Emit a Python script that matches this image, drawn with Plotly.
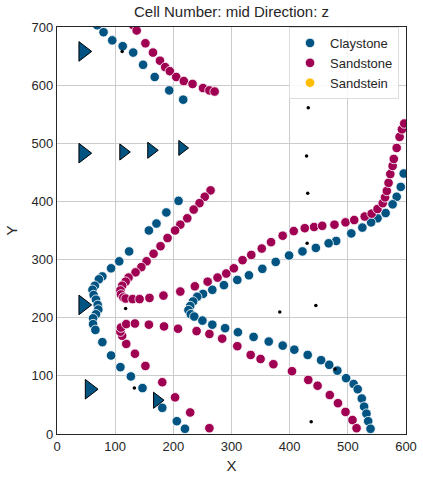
import plotly.graph_objects as go

# ---- data ----
clay_x = [69, 80, 95, 113, 131, 148, 168, 193, 217,
          209, 188, 171, 158, 124, 107, 93, 78, 72, 65, 61, 63, 67, 70, 71, 67, 62, 62, 66,
          78, 93, 109, 127, 147, 181, 206, 220,
          596, 591, 584, 577, 565, 551, 540, 525, 506, 480, 467, 445, 422, 399, 376, 353,
          330, 310, 287, 267, 251, 241, 234, 229, 226, 230, 236, 250, 267, 289, 311, 338,
          364, 388, 408, 431, 454, 468, 482, 497, 510, 517, 524, 528, 532, 535, 539]
clay_y = [703, 691, 677, 667, 656, 635, 614, 591, 575,
          401, 381, 362, 350, 314, 297, 285, 271, 266, 255, 248, 239, 231, 222, 214, 206, 199, 189, 179,
          158, 135, 115, 99, 79, 45, 22, 9,
          448, 425, 408, 395, 380, 371, 364, 355, 345, 332, 328, 320, 314, 307, 296, 284,
          273, 265, 256, 248, 241, 236, 228, 220, 213, 206, 202, 195, 188, 182, 175, 167,
          159, 152, 145, 136, 127, 119, 109, 96, 86, 77, 61, 47, 35, 22, 9]

sand_x = [131, 137, 152, 165, 177, 186, 194, 205, 218, 233, 251, 262, 271,
          264, 254, 245, 235, 224, 212, 203, 190, 178, 166, 154, 145, 135, 123, 118, 112, 109, 110,
          114, 118, 130, 142, 159, 183, 212, 237, 259, 276, 291, 304, 319, 334, 352, 368, 388,
          407, 426, 442, 456, 477, 496, 511, 529, 541, 551, 560, 564, 567, 570, 573, 577, 579,
          584, 589, 593, 597,
          262, 229, 203, 181, 152, 134, 119, 112, 109, 110, 119, 134, 158, 184, 208, 240, 262,
          284, 310, 333, 350, 372, 404, 432, 448, 469, 483, 496, 508, 515]
sand_y = [703, 694, 672, 656, 642, 631, 624, 614, 607, 602, 595, 591, 589,
          419, 408, 397, 386, 371, 360, 350, 337, 323, 310, 297, 287, 278, 269, 262, 255, 247, 240,
          235, 233, 232, 232, 234, 238, 245, 254, 262, 269, 276, 285, 299, 308, 319, 330, 341,
          349, 354, 356, 358, 360, 364, 368, 374, 379, 387, 397, 407, 418, 432, 447, 461, 473,
          492, 511, 524, 534,
          10, 37, 63, 89, 117, 138, 155, 169, 176, 183, 189, 190, 188, 185, 181, 177, 172,
          164, 151, 136, 129, 120, 108, 93, 83, 67, 53, 38, 24, 10]

sandstein_x = []
sandstein_y = []

point_x = [112, 432, 429, 431, 430, 445, 383, 478, 437, 118, 133]
point_y = [658, 561, 478, 414, 328, 221, 210, 112, 21, 216, 79]

orient_x = [45, 45, 114, 162, 215, 45, 56, 172]
orient_y = [658, 483, 485, 488, 492, 222, 77, 58]
orient_size = [17, 17, 14, 14, 13, 17, 17, 14]

C_CLAY = "#015482"
C_SAND = "#9f0052"
C_SANDSTEIN = "#ffbe00"
FONT = "Liberation Sans, Arial, sans-serif"
TXT = "#262626"

fig = go.Figure()
fig.add_trace(go.Scatter(x=clay_x, y=clay_y, mode="markers", name="Claystone",
                         marker=dict(color=C_CLAY, size=9.5, opacity=1,
                                     line=dict(color="white", width=0.8))))
fig.add_trace(go.Scatter(x=sand_x, y=sand_y, mode="markers", name="Sandstone",
                         marker=dict(color=C_SAND, size=9.5, opacity=1,
                                     line=dict(color="white", width=0.8))))
fig.add_trace(go.Scatter(x=sandstein_x or [None], y=sandstein_y or [None], mode="markers",
                         name="Sandstein",
                         marker=dict(color=C_SANDSTEIN, size=9.5, opacity=1,
                                     line=dict(color="white", width=0.8))))
fig.add_trace(go.Scatter(x=orient_x, y=orient_y, mode="markers", showlegend=False,
                         marker=dict(symbol="triangle-right", color=C_CLAY, size=orient_size,
                                     opacity=1, line=dict(color="black", width=1))))
fig.add_trace(go.Scatter(x=point_x, y=point_y, mode="markers", showlegend=False,
                         marker=dict(color="black", size=3.5, opacity=1)))

axis_common = dict(showgrid=True, gridcolor="#cccccc", gridwidth=1, zeroline=False,
                   showline=True, mirror=True, linecolor=TXT, linewidth=1.3,
                   ticks="", tickfont=dict(family=FONT, size=13, color=TXT),
                   dtick=100, automargin=False)

fig.update_layout(
    width=423, height=481,
    margin=dict(l=57, r=17, t=27, b=47),
    paper_bgcolor="white", plot_bgcolor="white",
    title=dict(text="Cell Number: mid Direction: z", x=0.5, xref="paper",
               y=1 - 12 / 481, yanchor="middle",
               font=dict(family=FONT, size=15, color=TXT)),
    xaxis=dict(range=[0, 600], title=dict(text="X", font=dict(family=FONT, size=15, color=TXT),
                                          standoff=7), **axis_common),
    yaxis=dict(range=[0, 700], title=dict(text="Y", font=dict(family=FONT, size=15, color=TXT),
                                          standoff=10), **axis_common),
    legend=dict(x=0.98, y=1.0, xanchor="right", yanchor="top",
                bgcolor="rgba(255,255,255,0.85)", bordercolor="#dddddd", borderwidth=1,
                font=dict(family=FONT, size=13, color=TXT), tracegroupgap=0),
    showlegend=True,
)

fig.write_html("out.html")
